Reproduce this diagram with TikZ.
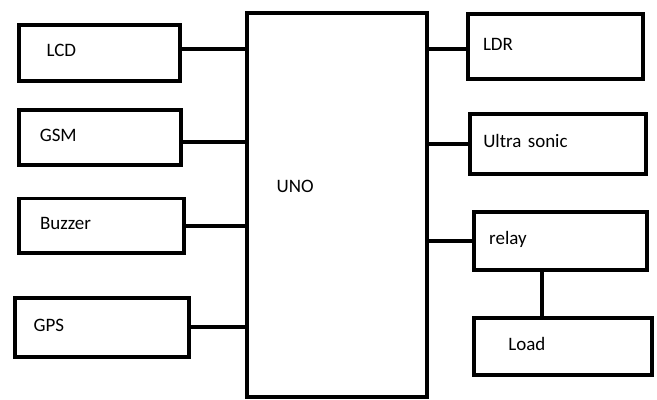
\documentclass[tikz,border=0pt]{standalone}
\usepackage{fontspec}
\setmainfont{Carlito}
\usetikzlibrary{positioning, calc}

\begin{document}
\begin{tikzpicture}[
    blk/.style={draw, line width=2.8pt, align=left,
                text height=1.5ex, text depth=0.4ex,
                font=\fontsize{13.5}{15}\selectfont},
    wire/.style={line width=2.8pt}
  ]
    \useasboundingbox (0,0) rectangle (16.425,-10);
    % controller
    \node[blk, minimum height=9.61cm, inner xsep=0.74cm, text width=3.02cm,
          text depth=0.87cm] (uno) at (8.425,-5.12) {UNO};
    % left side
    \node[blk, minimum height=1.39cm, inner xsep=0.70cm, text width=2.63cm]
      (lcd) at (2.48,-1.33) {LCD};
    \node[blk, minimum height=1.375cm, inner xsep=0.53cm, text width=2.99cm]
      (gsm) at (2.49,-3.445) {GSM};
    \node[blk, minimum height=1.355cm, inner xsep=0.53cm, text width=3.07cm]
      (buzzer) at (2.535,-5.64) {Buzzer};
    \node[blk, minimum height=1.48cm, inner xsep=0.47cm, text width=3.41cm]
      (gps) at (2.545,-8.185) {GPS};
    % right side
    \node[blk, minimum height=1.62cm, inner xsep=0.38cm, text width=3.62cm]
      (ldr) at (13.885,-1.16) {LDR};
    \node[blk, minimum height=1.485cm, inner xsep=0.325cm, text width=3.735cm]
      (sonic) at (13.95,-3.6) {Ultra sonic};
    \node[blk, minimum height=1.46cm, inner xsep=0.37cm, text width=3.58cm]
      (relay) at (14.02,-6.03) {relay};
    \node[blk, minimum height=1.44cm, inner xsep=0.85cm, text width=2.74cm]
      (load) at (14.08,-8.66) {Load};
    % wires
    \draw[wire] ([yshift=0.1cm]lcd.east) -- ([yshift=0.1cm]lcd.east -| uno.west);
    \draw[wire] ([yshift=-0.1cm]gsm.east) -- ([yshift=-0.1cm]gsm.east -| uno.west);
    \draw[wire] (buzzer.east) -- (buzzer.east -| uno.west);
    \draw[wire] (gps.east) -- (gps.east -| uno.west);
    \draw[wire] ([yshift=-0.07cm]ldr.west) -- ([yshift=-0.07cm]ldr.west -| uno.east);
    \draw[wire] (sonic.west) -- (sonic.west -| uno.east);
    \draw[wire] (relay.west) -- (relay.west -| uno.east);
    \draw[wire] ([xshift=-0.46cm]relay.south) -- ([xshift=-0.46cm]relay.south |- load.north);
\end{tikzpicture}
\end{document}
